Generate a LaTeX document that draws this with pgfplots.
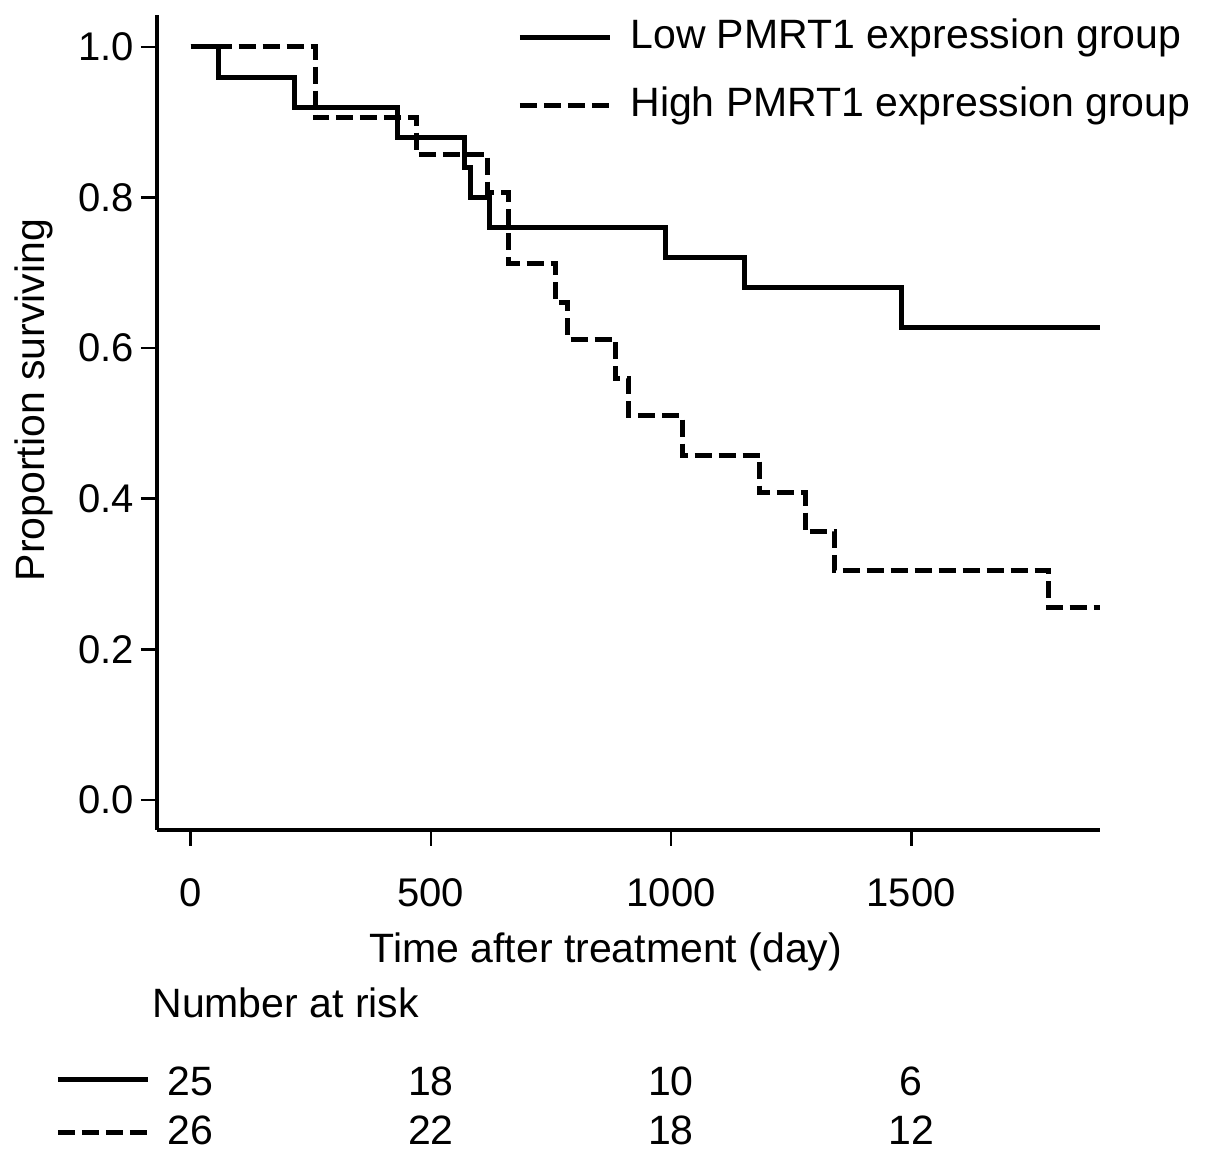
\documentclass[border=0pt]{standalone}
\usepackage{fontspec}
\setmainfont{Liberation Sans}
\usepackage{pgfplots}
\pgfplotsset{compat=1.18}
\begin{document}
\begin{tikzpicture}[font=\fontsize{20.5}{24.6}\selectfont]
\begin{axis}[
  at={(0,0)}, anchor=south west,
  scale only axis, width=471.5pt, height=407.5pt,
  xmin=-70, xmax=1893, ymin=-0.04, ymax=1.0425,
  axis x line*=bottom, axis y line*=left,
  axis line style={line width=2.2pt, -},
  clip=false,
  xtick={0,500,1000,1500}, xticklabels={0,500,1000,1500},
  ytick={0,0.2,0.4,0.6,0.8,1.0}, yticklabels={0.0,0.2,0.4,0.6,0.8,1.0},
  tick align=outside, major tick length=8pt,
  tick style={line width=1.3pt, black},
  ticklabel style={font=\fontsize{20}{24}\selectfont},
  xticklabel style={anchor=base, yshift=-30.5pt},
  xlabel={Time after treatment (day)},
  ylabel={Proportion surviving},
  xlabel style={at={(axis description cs:0.4761,-0.162)}, anchor=base},
  ylabel style={at={(axis description cs:-0.1304,0.5276)}, anchor=center},
  legend image code/.code={\draw[#1] (0pt,0pt) -- (45pt,0pt);},
  legend cell align=left,
  legend style={draw=none, fill=none, inner sep=0pt,
    at={(axis description cs:0.3818,0.9963)}, anchor=north west,
    row sep=14.5pt, column sep=0pt,
    nodes={inner sep=0pt, text height=15pt, text depth=4.5pt},
    font=\fontsize{20.5}{24.6}\selectfont},
]
\addplot[const plot, black, line width=2.5pt] coordinates {
  (0,1.0) (59,0.96) (217,0.92) (430,0.88) (571,0.84) (582,0.80)
  (623,0.76) (988,0.72) (1154,0.68) (1479,0.627) (1893,0.627)};
\addlegendentry{\hspace{9pt}Low PMRT1 expression group}
\addplot[const plot, black, line width=2.5pt, dash pattern=on 8.5pt off 3.5pt] coordinates {
  (0,1.0) (259,0.906) (471,0.857) (619,0.807) (661,0.713) (759,0.661)
  (784,0.612) (884,0.560) (911,0.511) (1023,0.458) (1185,0.408)
  (1279,0.356) (1341,0.304) (1785,0.255) (1893,0.255)};
\addlegendentry{\hspace{9pt}High PMRT1 expression group}
\end{axis}
\begin{scope}[x=0.5pt, y=-0.5pt, shift={(-78.5pt,415pt)}]
  \node[anchor=base west, inner sep=0pt] at (152,1018) {Number at risk};
  \draw[line width=2.5pt] (58,1080) -- (148,1080);
  \draw[line width=2.5pt, dash pattern=on 8.5pt off 3.5pt] (58,1133) -- (148,1133);
  \node[anchor=base, inner sep=0pt] at (190.5,1096) {25};
  \node[anchor=base, inner sep=0pt] at (430.8,1096) {18};
  \node[anchor=base, inner sep=0pt] at (671,1096) {10};
  \node[anchor=base, inner sep=0pt] at (911.3,1096) {6};
  \node[anchor=base, inner sep=0pt] at (190.5,1145) {26};
  \node[anchor=base, inner sep=0pt] at (430.8,1145) {22};
  \node[anchor=base, inner sep=0pt] at (671,1145) {18};
  \node[anchor=base, inner sep=0pt] at (911.3,1145) {12};
  \pgfresetboundingbox
  \path[use as bounding box] (0,0) rectangle (1205,1160);
\end{scope}
\end{tikzpicture}
\end{document}
